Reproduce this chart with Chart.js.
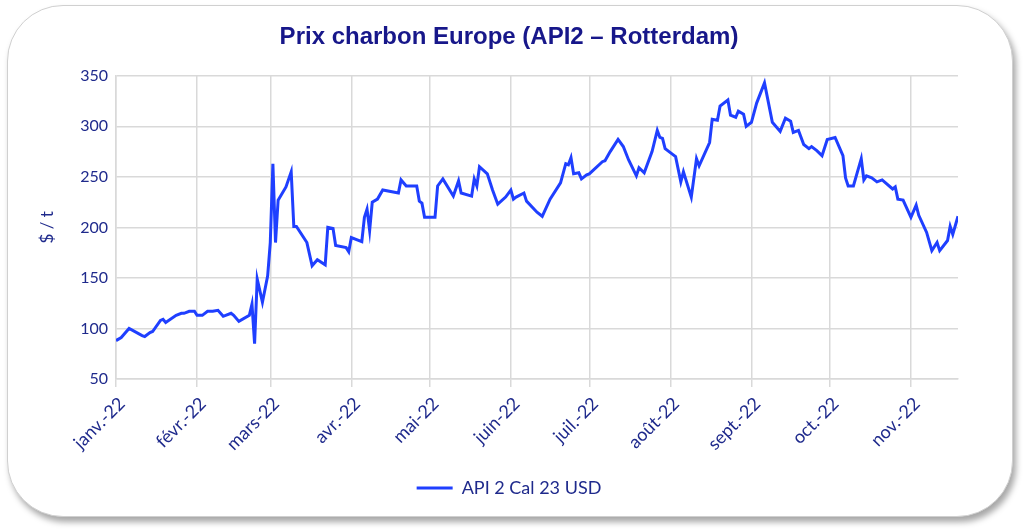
<!DOCTYPE html>
<html lang="fr">
<head>
<meta charset="utf-8">
<script src="https://cdn.jsdelivr.net/npm/chart.js@4.4.1/dist/chart.umd.min.js"></script>
<style>
  html, body { margin: 0; padding: 0; background: #fff; }
  #frame {
    position: absolute; left: 7px; top: 5px; width: 1004px; height: 510px;
    border: 1px solid #d0d0d0; border-radius: 56px; background: #fff;
    box-shadow: 3px 5px 6px rgba(0, 0, 0, 0.35);
  }
  #wrap { position: absolute; left: 0; top: 0; width: 1024px; height: 532px; }
</style>
</head>
<body>
<div id="frame"></div>
<div id="wrap"><canvas id="chart"></canvas></div>
<script>
// jours depuis le 1er janvier 2022
const days = [
  0, 2, 3, 5, 10, 11, 13, 14, 17, 18, 19, 23, 25, 26, 28, 30, 31, 33, 35, 37,
  39, 41, 44, 45, 47, 51, 52, 53, 54, 56, 58, 59, 60, 61, 62, 65, 67, 68, 69, 73,
  75, 77, 80, 81, 83, 84, 88, 89, 90, 94, 95, 96, 97, 98, 100, 102, 108, 109, 111, 115,
  116, 117, 118, 122, 123, 125, 129, 131, 132, 136, 137, 138, 139, 142, 144, 146, 149, 151, 152, 153,
  156, 157, 161, 163, 166, 170, 172, 173, 174, 175, 177, 178, 180, 181, 186, 187, 189, 192, 194, 196,
  199, 200, 202, 205, 207, 208, 209, 210, 213, 214, 216, 217, 220, 222, 223, 227, 228, 230, 231, 234,
  235, 237, 238, 240, 241, 243, 245, 248, 251, 254, 256, 258, 259, 261, 263, 265, 266, 268, 270, 272,
  275, 278, 279, 280, 282, 285, 286, 287, 289, 291, 293, 297, 298, 299, 301, 304, 306, 307, 310, 312,
  314, 315, 318, 319, 320, 322
];
const prices = [
  88, 91, 94, 100, 93, 92, 96, 97, 108, 109, 106, 113, 115, 115, 117, 117, 113, 113, 117, 117,
  118, 112, 115, 113, 107, 113, 124, 85, 149, 126, 152, 185, 263, 185, 227, 240, 255, 201, 201, 185,
  162, 168, 163, 200, 199, 182, 180, 176, 190, 186, 210, 218, 197, 225, 228, 237, 234, 247, 241, 241,
  226, 224, 210, 210, 241, 248, 231, 246, 234, 231, 248, 241, 260, 253, 237, 223, 230, 237, 228, 230,
  234, 226, 215, 211, 228, 244, 263, 262, 269, 253, 254, 248, 252, 253, 265, 266, 275, 287, 280, 267,
  251, 259, 254, 275, 296, 289, 288, 278, 272, 270, 245, 255, 230, 268, 261, 284, 307, 306, 320, 326,
  311, 309, 315, 312, 300, 304, 323, 343, 304, 295, 308, 305, 294, 296, 282, 278, 280, 276, 271, 287,
  289, 271, 249, 241, 241, 268, 247, 251, 249, 245, 247, 238, 240, 228, 227, 210, 222, 212, 195, 177,
  185, 177, 187, 201, 193, 211
];
const monthStarts = [0, 31, 59, 90, 120, 151, 181, 212, 243, 273, 304];
const monthLabels = ['janv.-22', 'févr.-22', 'mars-22', 'avr.-22', 'mai-22', 'juin-22',
  'juil.-22', 'août-22', 'sept.-22', 'oct.-22', 'nov.-22'];
const seriesName = 'API 2 Cal 23 USD';

const navy = '#1f2a8c';
const lineBlue = '#1f3fff';
const gridGrey = '#d9d9d9';

const points = days.map((d, i) => ({ x: d, y: prices[i] }));

new Chart(document.getElementById('chart'), {
  type: 'line',
  data: {
    datasets: [{
      label: seriesName,
      data: points,
      borderColor: lineBlue,
      backgroundColor: lineBlue,
      borderWidth: 3,
      pointRadius: 0,
      tension: 0
    }]
  },
  options: {
    responsive: true,
    maintainAspectRatio: false,
    animation: false,
    layout: { padding: { left: 37, right: 43, top: 15, bottom: 25 } },
    plugins: {
      title: {
        display: true,
        text: 'Prix charbon Europe (API2 – Rotterdam)',
        color: '#17178a',
        font: { family: 'Liberation Sans', size: 24, weight: 'bold' },
        padding: { top: 8, bottom: 24 }
      },
      legend: {
        position: 'bottom',
        labels: {
          color: navy,
          font: { family: 'Lato', size: 18 },
          usePointStyle: true,
          pointStyle: 'line',
          pointStyleWidth: 36,
          padding: 9
        }
      },
      tooltip: { enabled: false }
    },
    scales: {
      x: {
        type: 'linear',
        min: 0,
        max: 322,
        afterBuildTicks: (scale) => {
          scale.ticks = monthStarts.map(v => ({ value: v }));
        },
        afterFit: (scale) => { scale.height = 91; },
        ticks: {
          color: navy,
          font: { family: 'Lato', size: 18 },
          minRotation: 45,
          maxRotation: 45,
          labelOffset: 6,
          padding: 6,
          callback: (value) => monthLabels[monthStarts.indexOf(value)]
        },
        grid: { color: gridGrey, lineWidth: 1.5, tickLength: 8 },
        border: { color: gridGrey, width: 1.5 }
      },
      y: {
        min: 50,
        max: 350,
        afterFit: (scale) => { scale.width = 79; },
        ticks: {
          stepSize: 50,
          color: navy,
          font: { family: 'Lato', size: 16 },
          padding: 8
        },
        title: {
          display: true,
          text: '$ / t',
          color: navy,
          font: { family: 'Lato', size: 17 },
          padding: { top: 0, bottom: 0 }
        },
        grid: { color: gridGrey, lineWidth: 1.5, drawTicks: false },
        border: { color: gridGrey, width: 1.5 }
      },
      pad: {
        position: 'right',
        min: 0,
        max: 1,
        afterFit: (scale) => { scale.width = 23; },
        ticks: { display: false },
        grid: { display: false },
        border: { display: false }
      }
    }
  }
});
</script>
</body>
</html>
